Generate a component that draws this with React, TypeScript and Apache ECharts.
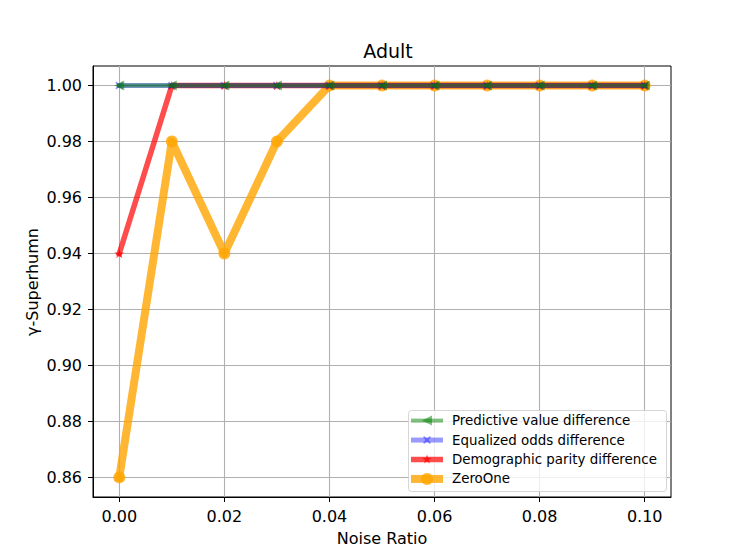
import React, { useEffect, useRef } from "react";
import * as echarts from "echarts";

const xValues = [0, 0.01, 0.02, 0.03, 0.04, 0.05, 0.06, 0.07, 0.08, 0.09, 0.1];
const predictive = [1, 1, 1, 1, 1, 1, 1, 1, 1, 1, 1];
const equalized = [1, 1, 1, 1, 1, 1, 1, 1, 1, 1, 1];
const demographic = [0.94, 1, 1, 1, 1, 1, 1, 1, 1, 1, 1];
const zeroOne = [0.86, 0.98, 0.94, 0.98, 1, 1, 1, 1, 1, 1, 1];
const xTicks = [0, 0.02, 0.04, 0.06, 0.08, 0.1];
const yTicks = [0.86, 0.88, 0.9, 0.92, 0.94, 0.96, 0.98, 1.0];

const FONT = "DejaVu Sans";
const STAR_D =
  "M100,0L122.45,69.1L195.1,69.1L136.3,111.8L158.8,180.9L100,138.2L41.2,180.9L63.7,111.8L4.9,69.1L77.55,69.1Z";
const XMARK_D =
  "M0,1.5L1.5,0L5,3.5L8.5,0L10,1.5L6.5,5L10,8.5L8.5,10L5,6.5L1.5,10L0,8.5L3.5,5Z";
const TRI_D = "M0,5L10,0L10,10Z";

let registered = false;
function registerShapes() {
  if (registered) return;
  registered = true;
  echarts.graphic.registerShape("mkStar", echarts.graphic.extendPath(STAR_D, {}));
  echarts.graphic.registerShape("mkX", echarts.graphic.extendPath(XMARK_D, {}));
  echarts.graphic.registerShape("mkTri", echarts.graphic.extendPath(TRI_D, {}));
}

const pairs = (ys: number[]) => xValues.map((x, i) => [x, ys[i]]);

export default function App() {
  const ref = useRef<HTMLDivElement>(null);
  useEffect(() => {
    if (!ref.current) return;
    registerShapes();
    const chart = echarts.init(ref.current, null, { renderer: "svg" });
    const seriesDefs = [
      { name: "ZeroOne", data: zeroOne, color: "rgba(255,165,0,0.8)", width: 8, symbol: "circle", mk: "circle", size: 12, z: 2 },
      { name: "Demographic parity difference", data: demographic, color: "rgba(255,0,0,0.7)", width: 5.5, symbol: "path://" + STAR_D, mk: "mkStar", size: 10, z: 3 },
      { name: "Equalized odds difference", data: equalized, color: "rgba(0,0,255,0.4)", width: 5, symbol: "path://" + XMARK_D, mk: "mkX", size: 8, z: 4 },
      { name: "Predictive value difference", data: predictive, color: "rgba(0,128,0,0.5)", width: 4, symbol: "path://" + TRI_D, mk: "mkTri", size: 10, z: 5 },
    ];
    const legendOrder = [
      "Predictive value difference",
      "Equalized odds difference",
      "Demographic parity difference",
      "ZeroOne",
    ];

    // legend built from graphic elements
    const lgX = 408, lgY = 410, lgW = 258, lgH = 81;
    const rowY0 = 420.6, rowStep = 19.45;
    const hx1 = 411, hx2 = 443, hmid = 427, textX = 452;
    const legendEls: any[] = [
      {
        type: "rect",
        shape: { x: lgX + 0.5, y: lgY + 0.5, width: lgW, height: lgH, r: 3 },
        style: { fill: "rgba(255,255,255,0.8)", stroke: "rgba(204,204,204,0.8)", lineWidth: 1 },
        z: 100,
      },
    ];
    legendOrder.forEach((n, i) => {
      const s = seriesDefs.find((d) => d.name === n)!;
      const cy = rowY0 + i * rowStep;
      legendEls.push({
        type: "line",
        shape: { x1: hx1, y1: cy, x2: hx2, y2: cy },
        style: { stroke: s.color, lineWidth: s.width, lineCap: "butt" },
        z: 101,
      });
      if (s.mk === "circle") {
        legendEls.push({
          type: "circle",
          shape: { cx: hmid, cy, r: s.size / 2 },
          style: { fill: s.color },
          z: 102,
        });
      } else {
        const box = s.mk === "mkStar" ? 200 : 10;
        const sc = s.size / box;
        legendEls.push({
          type: s.mk,
          x: hmid - s.size / 2,
          y: cy - s.size / 2,
          scaleX: sc,
          scaleY: sc,
          style: { fill: s.color },
          z: 102,
        });
      }
      legendEls.push({
        type: "text",
        x: textX,
        y: cy,
        style: {
          text: n,
          font: `13.4px "${FONT}"`,
          fill: "#000",
          textAlign: "left",
          textVerticalAlign: "middle",
        },
        z: 102,
      });
    });

    chart.setOption({
      animation: false,
      backgroundColor: "#fff",
      textStyle: { fontFamily: FONT },
      title: {
        text: "Adult",
        left: 383,
        top: 36,
        textAlign: "center",
        textStyle: { fontFamily: FONT, fontSize: 19, fontWeight: "normal", color: "#000" },
      },
      grid: {
        left: 93,
        right: 76,
        top: 66,
        bottom: 63,
        show: true,
        borderColor: "#000",
        borderWidth: 1,
        backgroundColor: "transparent",
        containLabel: false,
      },
      xAxis: {
        type: "value",
        min: -0.005,
        max: 0.105,
        axisLine: { show: true, onZero: false, lineStyle: { color: "#000", width: 1 } },
        axisTick: { show: true, length: 5, customValues: xTicks, lineStyle: { color: "#000", width: 1 } },
        axisLabel: {
          customValues: xTicks,
          margin: 11,
          color: "#000",
          fontFamily: FONT,
          fontSize: 16,
          formatter: (v: number) => v.toFixed(2),
        },
        splitLine: { show: true, lineStyle: { color: "#b0b0b0", width: 1.1 } },
      },
      yAxis: {
        type: "value",
        min: 0.853,
        max: 1.007,
        axisLine: { show: true, onZero: false, lineStyle: { color: "#000", width: 1 } },
        axisTick: { show: true, length: 5, customValues: yTicks, lineStyle: { color: "#000", width: 1 } },
        axisLabel: {
          customValues: yTicks,
          margin: 11,
          color: "#000",
          fontFamily: FONT,
          fontSize: 16,
          formatter: (v: number) => v.toFixed(2),
        },
        splitLine: { show: true, lineStyle: { color: "#b0b0b0", width: 1.1 } },
      },
      graphic: [
        {
          type: "text",
          x: 382,
          y: 538,
          style: {
            text: "Noise Ratio",
            font: `16px "${FONT}"`,
            fill: "#000",
            textAlign: "center",
            textVerticalAlign: "middle",
          },
        },
        {
          type: "text",
          x: 32,
          y: 282,
          rotation: Math.PI / 2,
          style: {
            text: "γ-Superhumn",
            font: `16px "${FONT}"`,
            fill: "#000",
            textAlign: "center",
            textVerticalAlign: "middle",
          },
        },
        ...legendEls,
      ],
      series: seriesDefs.map((s) => ({
        type: "line",
        name: s.name,
        data: pairs(s.data),
        z: s.z,
        symbol: s.symbol,
        symbolSize: s.size,
        symbolKeepAspect: true,
        showAllSymbol: true,
        color: s.color,
        itemStyle: { color: s.color, borderWidth: 0 },
        lineStyle: { color: s.color, width: s.width, join: "round", cap: "square" },
        emphasis: { disabled: true },
      })),
    });
    return () => chart.dispose();
  }, []);
  return <div ref={ref} style={{ position: "fixed", left: 0, top: 0, width: 747, height: 560 }} />;
}
